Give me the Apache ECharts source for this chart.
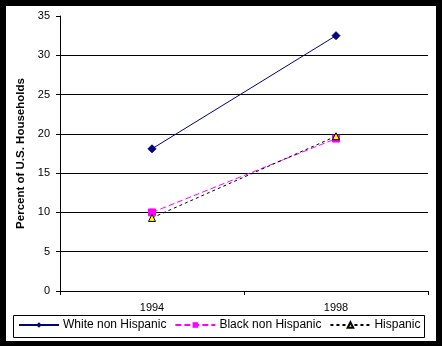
<!DOCTYPE html>
<html>
<head>
<meta charset="utf-8">
<script src="https://cdn.jsdelivr.net/npm/echarts@6/dist/echarts.min.js"></script>
<style>
html,body{margin:0;padding:0;background:#000;width:442px;height:346px;overflow:hidden;}
#chart{position:absolute;left:6px;top:6px;width:430px;height:335px;background:#fff;}
</style>
</head>
<body>
<div id="chart"></div>
<script>
const categories = ['1994', '1998'];
const whiteNonHispanic = [18.1, 32.5];
const blackNonHispanic = [10.0, 19.4];
const hispanic = [9.3, 19.7];
const seriesNames = ['White non Hispanic', 'Black non Hispanic', 'Hispanic'];
const yTitle = 'Percent of U.S. Households';

const FONT = 'Liberation Sans, Arial, sans-serif';
const chart = echarts.init(document.getElementById('chart'));
chart.setOption({
  animation: false,
  backgroundColor: '#fff',
  textStyle: { fontFamily: FONT },
  grid: { left: 54, top: 10, right: 8, bottom: 50 },
  xAxis: {
    type: 'category',
    data: categories,
    boundaryGap: true,
    axisLine: { lineStyle: { color: '#000', width: 1 } },
    axisTick: { show: true, length: 4, inside: false, lineStyle: { color: '#000' } },
    axisLabel: { color: '#000', fontSize: 11, margin: 11, fontFamily: FONT },
    splitLine: { show: false }
  },
  yAxis: {
    type: 'value',
    min: 0, max: 35, interval: 5,
    name: yTitle,
    nameLocation: 'middle',
    nameGap: 32,
    nameTextStyle: { color: '#000', fontSize: 11.5, fontWeight: 'bold', fontFamily: FONT },
    axisLine: { show: true, lineStyle: { color: '#000', width: 1 } },
    axisTick: { show: true, length: 4, lineStyle: { color: '#000' } },
    axisLabel: { color: '#000', fontSize: 11, margin: 10, fontFamily: FONT },
    splitLine: { show: true, showMaxLine: false, lineStyle: { color: '#000', width: 1 } }
  },
  legend: {
    left: 12, top: 313, padding: 0,
    itemWidth: 40, itemHeight: 7, itemGap: 8,
    textStyle: { color: '#000', fontSize: 12, fontFamily: FONT, padding: [0, 0, 0, -1] },
    data: seriesNames
  },
  graphic: [{
    type: 'rect',
    shape: { x: 7.5, y: 309.5, width: 411, height: 22 },
    style: { fill: 'none', stroke: '#000', lineWidth: 1 },
    silent: true
  }],
  series: [
    {
      name: seriesNames[0], type: 'line', data: whiteNonHispanic,
      symbol: 'diamond', symbolSize: 8,
      lineStyle: { color: '#000080', width: 1, type: 'solid' },
      itemStyle: { color: '#000080', borderColor: '#000080' }
    },
    {
      name: seriesNames[1], type: 'line', data: blackNonHispanic,
      symbol: 'rect', symbolSize: 7,
      lineStyle: { color: '#ff00ff', width: 1, type: [6, 3] },
      itemStyle: { color: '#ff00ff', borderColor: '#ff00ff' }
    },
    {
      name: seriesNames[2], type: 'line', data: hispanic,
      symbol: 'triangle', symbolSize: 7,
      lineStyle: { color: '#000', width: 1, type: [3, 3] },
      itemStyle: { color: '#ffff00', borderColor: '#000', borderWidth: 1 }
    }
  ]
});
</script>
</body>
</html>
